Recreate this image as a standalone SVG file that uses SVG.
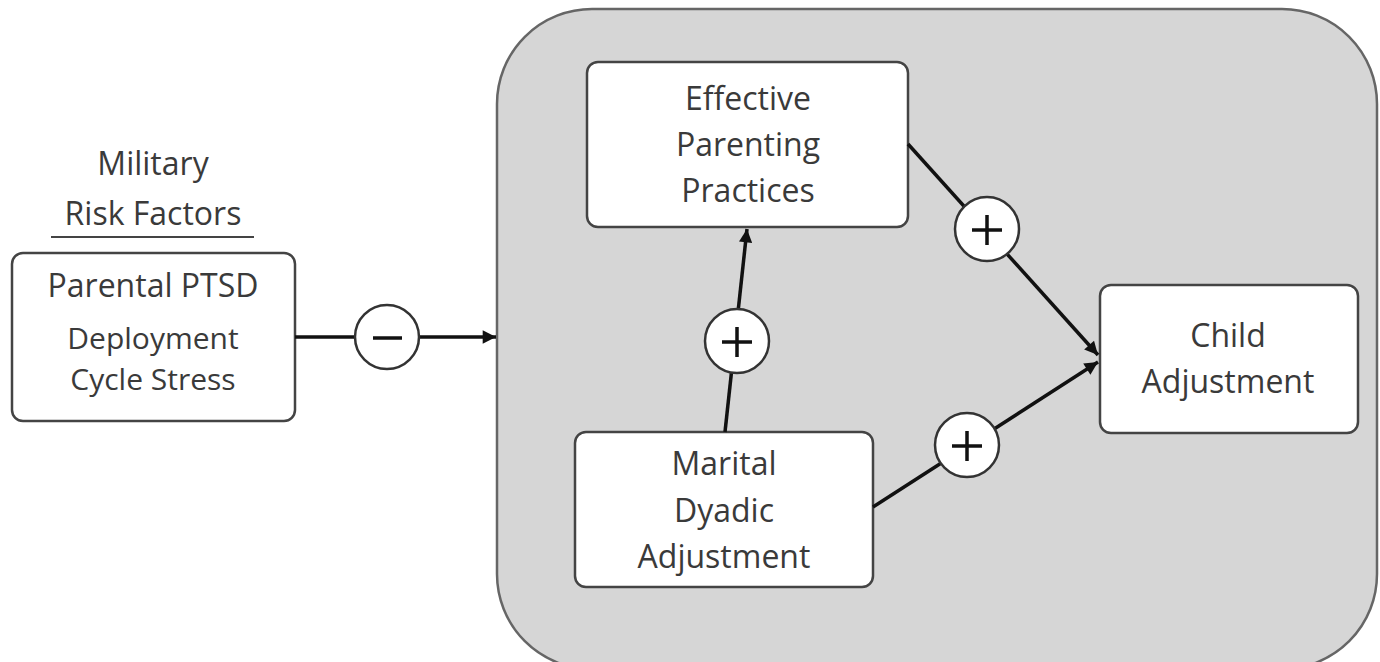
<svg xmlns="http://www.w3.org/2000/svg" width="1380" height="662" viewBox="0 0 1380 662">
<defs>
<style>
.box{fill:#fff;stroke:#444;stroke-width:2.5}
.t{font-family:"Open Sans","Liberation Sans",sans-serif;font-size:32px;fill:#3a3a3a;text-anchor:middle}
.s{font-size:30px}
.c{fill:#fff;stroke:#333;stroke-width:2.5}
.sym{stroke:#111;stroke-width:3.5;fill:none}
.ln{stroke:#111;stroke-width:3.5;fill:none}
</style>
<marker id="ah" viewBox="0 0 10 10" refX="10" refY="5" markerWidth="5.6" markerHeight="3.8" orient="auto" markerUnits="strokeWidth">
<path d="M0,0 L10,5 L0,10 z" fill="#111"/>
</marker>
</defs>
<rect width="1380" height="662" fill="#fff"/>
<g id="context">
<rect x="497" y="9" width="880" height="660" rx="95" ry="95" fill="#d6d6d6" stroke="#666" stroke-width="2.5"/>
</g>
<g id="risk-title">
<text class="t" x="153" y="175">Military</text>
<text class="t" x="153" y="225">Risk Factors</text>
<line x1="51" y1="237" x2="254" y2="237" stroke="#444" stroke-width="2"/>
</g>
<g id="risk-box">
<rect class="box" x="12" y="253" width="283" height="168" rx="11"/>
<text class="t" x="153" y="297">Parental PTSD</text>
<text class="t s" x="153" y="349">Deployment</text>
<text class="t s" x="153" y="390">Cycle Stress</text>
</g>
<g id="parenting">
<rect class="box" x="587" y="62" width="321" height="165" rx="11"/>
<text class="t" x="748" y="110">Effective</text>
<text class="t" x="748" y="156">Parenting</text>
<text class="t" x="748" y="202">Practices</text>
</g>
<g id="marital">
<rect class="box" x="575" y="432" width="298" height="155" rx="11"/>
<text class="t" x="724" y="475">Marital</text>
<text class="t" x="724" y="522">Dyadic</text>
<text class="t" x="724" y="568">Adjustment</text>
</g>
<g id="child">
<rect class="box" x="1100" y="285" width="258" height="148" rx="11"/>
<text class="t" x="1228" y="347">Child</text>
<text class="t" x="1228" y="393">Adjustment</text>
</g>
<g id="connectors">
<line class="ln" x1="295" y1="337" x2="496" y2="337" marker-end="url(#ah)"/>
<line class="ln" x1="725" y1="432" x2="747" y2="229" marker-end="url(#ah)"/>
<line class="ln" x1="908" y1="144" x2="1098" y2="355" marker-end="url(#ah)"/>
<line class="ln" x1="873" y1="507" x2="1098" y2="362" marker-end="url(#ah)"/>
</g>
<g id="signs">
<circle class="c" cx="387" cy="337" r="32"/>
<line class="sym" x1="373" y1="338" x2="402" y2="338"/>
<circle class="c" cx="737" cy="341" r="32"/>
<path class="sym" d="M722,342 H752 M737,327 V357"/>
<circle class="c" cx="987" cy="229" r="32"/>
<path class="sym" d="M972,230 H1002 M987,215 V245"/>
<circle class="c" cx="967" cy="445" r="32"/>
<path class="sym" d="M952,446 H982 M967,431 V461"/>
</g>
</svg>
